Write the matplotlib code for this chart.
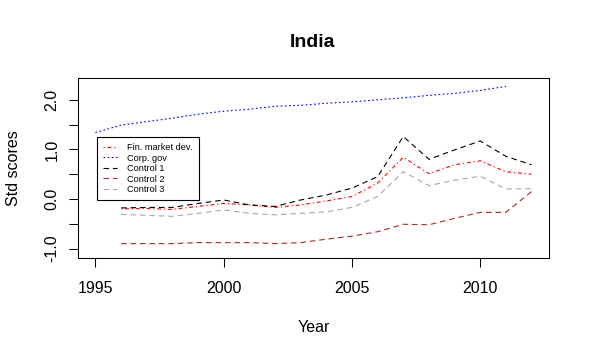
import matplotlib
matplotlib.use("Agg")
import matplotlib.pyplot as plt

plt.rcParams['font.family'] = ['Liberation Sans', 'DejaVu Sans']
plt.rcParams['lines.scale_dashes'] = False

years = list(range(1995, 2013))
years_ctrl = list(range(1996, 2013))
years_gov = list(range(1995, 2012))

fin_market_dev = [-0.20, -0.19, -0.21, -0.15, -0.09, -0.12, -0.17, -0.12, -0.04, 0.05,
                  0.32, 0.84, 0.51, 0.69, 0.77, 0.55, 0.50]
corp_gov = [1.34, 1.49, 1.56, 1.63, 1.71, 1.77, 1.81, 1.87, 1.89, 1.93, 1.96,
            2.00, 2.04, 2.09, 2.13, 2.19, 2.27]
control1 = [-0.18, -0.17, -0.17, -0.09, -0.02, -0.12, -0.15, -0.02, 0.08, 0.22,
            0.45, 1.26, 0.80, 0.99, 1.17, 0.86, 0.69]
control2 = [-0.90, -0.90, -0.90, -0.88, -0.88, -0.88, -0.90, -0.88, -0.81, -0.75,
            -0.66, -0.51, -0.52, -0.39, -0.27, -0.27, 0.15]
control3 = [-0.31, -0.33, -0.35, -0.29, -0.22, -0.29, -0.32, -0.29, -0.26, -0.17,
            0.05, 0.55, 0.27, 0.38, 0.46, 0.20, 0.21]

labels = ["Fin. market dev.", "Corp. gov", "Control 1", "Control 2", "Control 3"]
xticks = [1995, 2000, 2005, 2010]
yticks = [-1.0, -0.5, 0.0, 0.5, 1.0, 1.5, 2.0]
yticklabels = ["-1.0", "", "0.0", "", "1.0", "", "2.0"]

W, H = 590, 356
fig = plt.figure(figsize=(W / 100, H / 100), dpi=100)
ax = fig.add_axes([78 / W, 1 - 258 / H, (549 - 78) / W, (258 - 78) / H])

lw = 0.8
dashed = (0, (4.0, 2.8))
ax.plot(years_ctrl, fin_market_dev, color='#FF0000', lw=lw, ls=(0, (0.9, 2.0, 2.8, 2.0)))
ax.plot(years_gov, corp_gov, color='#0000FF', lw=lw, ls=(0, (1.2, 1.8)))
ax.plot(years_ctrl, control1, color='black', lw=lw, ls=dashed)
ax.plot(years_ctrl, control2, color='#A52A2A', lw=lw, ls=dashed)
ax.plot(years_ctrl, control3, color='#A8A8A8', lw=lw, ls=dashed)

ax.set_xlim(1995 - 0.68, 2012 + 0.68)
ax.set_ylim(-1.19, 2.44)
ax.set_xticks(xticks)
ax.set_xticklabels([str(x) for x in xticks])
ax.set_yticks(yticks)
ax.set_yticklabels(yticklabels, rotation=90, va='center')
ax.tick_params(axis='both', length=6.5, width=0.75, labelsize=11.5, direction='out')
ax.tick_params(axis='x', pad=10.2)
ax.tick_params(axis='y', pad=7)
for s in ax.spines.values():
    s.set_linewidth(0.75)

leg = ax.legend(labels, loc='upper left',
                bbox_to_anchor=(96.5 / W, 1 - 136.7 / H), bbox_transform=fig.transFigure,
                borderaxespad=0, fontsize=6.6, frameon=True, fancybox=False,
                framealpha=1, edgecolor='black', handlelength=1.5,
                handletextpad=1.1, labelspacing=0.16, borderpad=0.7)
leg.get_frame().set_linewidth(0.8)

fig.text(312.5 / W, 1 - 46.7 / H, "India", ha='center', va='baseline',
         fontsize=14, fontweight='bold')
fig.text(313.5 / W, 1 - 331.7 / H, "Year", ha='center', va='baseline', fontsize=11.5)
fig.text(13.5 / W, 1 - 168 / H, "Std scores", ha='center', va='center',
         rotation=90, fontsize=11.5)

fig.savefig("out.png", dpi=100)
